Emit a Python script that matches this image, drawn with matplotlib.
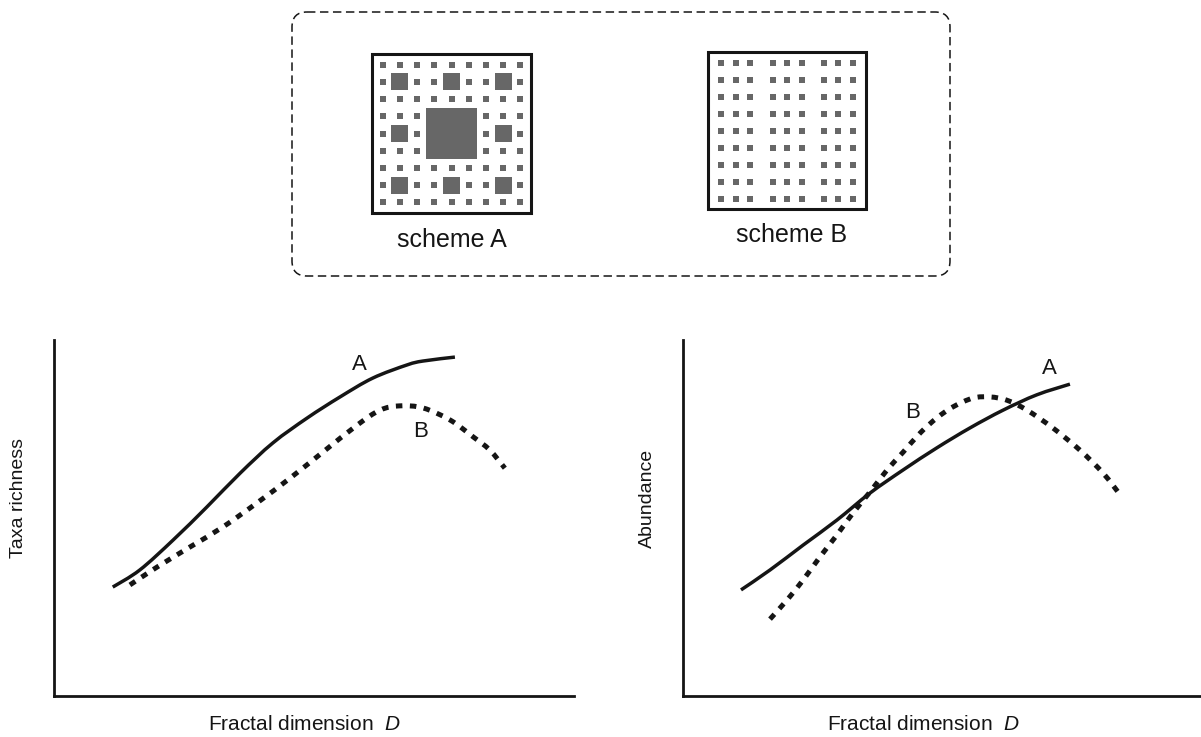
import numpy as np
import matplotlib
matplotlib.use("Agg")
import matplotlib.pyplot as plt
from matplotlib.patches import Rectangle, FancyBboxPatch, PathPatch
from matplotlib.path import Path

plt.rcParams['font.family'] = ['Liberation Sans', 'DejaVu Sans']
plt.rcParams['mathtext.fontset'] = 'custom'
plt.rcParams['mathtext.it'] = 'Liberation Sans:italic'
plt.rcParams['mathtext.rm'] = 'Liberation Sans'

INK = '#151515'
GREY = '#676767'

# relative curves, x = fractal dimension (0..1), y = response (0..1)
rich_a_x = [0.113, 0.165, 0.229, 0.294, 0.358, 0.421, 0.487, 0.550, 0.613, 0.679, 0.710, 0.771]
rich_a_y = [0.306, 0.354, 0.438, 0.531, 0.626, 0.711, 0.781, 0.840, 0.893, 0.930, 0.941, 0.952]
rich_b_x = [0.146, 0.198, 0.262, 0.325, 0.390, 0.454, 0.517, 0.583, 0.627, 0.665, 0.710, 0.762,
            0.806, 0.838, 0.867]
rich_b_y = [0.312, 0.362, 0.419, 0.475, 0.542, 0.612, 0.685, 0.761, 0.803, 0.815, 0.809, 0.775,
            0.728, 0.691, 0.640]

abund_a_x = [0.112, 0.168, 0.232, 0.297, 0.361, 0.425, 0.490, 0.554, 0.618, 0.683, 0.747]
abund_a_y = [0.298, 0.354, 0.424, 0.494, 0.570, 0.635, 0.697, 0.753, 0.803, 0.846, 0.876]
abund_b_x = [0.168, 0.201, 0.232, 0.264, 0.297, 0.328, 0.361, 0.394, 0.425, 0.458, 0.490, 0.521,
             0.560, 0.593, 0.625, 0.664, 0.714, 0.766, 0.811, 0.844]
abund_b_y = [0.216, 0.270, 0.326, 0.390, 0.452, 0.514, 0.573, 0.635, 0.685, 0.739, 0.781, 0.812,
             0.837, 0.840, 0.831, 0.803, 0.753, 0.691, 0.626, 0.565]

panels = [
    dict(ylabel='Taxa richness', a=(rich_a_x, rich_a_y), b=(rich_b_x, rich_b_y),
         a_lab=(0.588, 0.930), b_lab=(0.704, 0.742), xlab_x=0.481),
    dict(ylabel='Abundance', a=(abund_a_x, abund_a_y), b=(abund_b_x, abund_b_y),
         a_lab=(0.708, 0.921), b_lab=(0.444, 0.795), xlab_x=0.465),
]
scheme_names = ['scheme A', 'scheme B']

W, H = 1201, 737
fig = plt.figure(figsize=(W / 100, H / 100), dpi=100)


def smooth_path(xs, ys):
    # bezier path through the points (catmull-rom handles)
    p = np.column_stack([xs, ys])
    ext = np.vstack([p[0], p, p[-1]])
    verts = [p[0]]
    codes = [Path.MOVETO]
    for i in range(len(p) - 1):
        c1 = ext[i + 1] + (ext[i + 2] - ext[i]) / 6
        c2 = ext[i + 2] - (ext[i + 3] - ext[i + 1]) / 6
        verts += [c1, c2, p[i + 1]]
        codes += [Path.CURVE4] * 3
    return Path(verts, codes)


# --- top sketch: two patch layouts inside a dashed rounded frame (pixel coords)
sk = fig.add_axes([0, 0, 1, 1])
sk.set_xlim(0, W)
sk.set_ylim(H, 0)
sk.axis('off')

sk.add_patch(FancyBboxPatch((292, 12), 658, 264, boxstyle="round,pad=0,rounding_size=15",
                            fill=False, ec=INK, lw=1.1, ls=(0, (5.5, 3))))


def sq(cx, cy, s):
    sk.add_patch(Rectangle((cx - s / 2, cy - s / 2), s, s, fc=GREY, ec='none'))


# scheme A: three-level carpet of filled holes
x0, y0, side = 372, 54, 159
sk.add_patch(Rectangle((x0, y0), side, side, fill=False, ec=INK, lw=2.2, zorder=3))
cell = (side - 4) / 9
gx, gy = x0 + 2, y0 + 2
for i in range(9):
    for j in range(9):
        cx, cy = gx + (i + 0.5) * cell, gy + (j + 0.5) * cell
        if i // 3 == 1 and j // 3 == 1:
            continue
        if i % 3 == 1 and j % 3 == 1:
            sq(cx, cy, cell)
        else:
            sq(cx, cy, 6)
sq(gx + 4.5 * cell, gy + 4.5 * cell, 3 * cell)
sk.text(x0 + side / 2, 240, scheme_names[0], ha='center', va='center', fontsize=18, color=INK)

# scheme B: evenly spread small squares in three column groups
x0, y0, side = 708, 52, 158
sk.add_patch(Rectangle((x0, y0), side, side - 1, fill=False, ec=INK, lw=2.2, zorder=3))
cell = (side - 4) / 9
gx, gy = x0 + 2, y0 + 2
for g in range(3):
    gc = gx + (3 * g + 1.5) * cell
    for k in (-1, 0, 1):
        for j in range(9):
            sq(gc + k * 14.5, gy + (j + 0.5) * cell, 6)
sk.text(x0 + side / 2 + 5, 235, scheme_names[1], ha='center', va='center', fontsize=18, color=INK)

# --- bottom panels
rects = [[54 / W, 41 / H, 520 / W, 356 / H], [683 / W, 41 / H, 518 / W, 356 / H]]
for r, p in zip(rects, panels):
    ax = fig.add_axes(r)
    ax.set_xlim(0, 1)
    ax.set_ylim(0, 1)
    ax.patch.set_alpha(0)
    for s in ('top', 'right'):
        ax.spines[s].set_visible(False)
    for s in ('left', 'bottom'):
        ax.spines[s].set_linewidth(2.0)
        ax.spines[s].set_color(INK)
    ax.set_xticks([])
    ax.set_yticks([])

    ax.add_patch(PathPatch(smooth_path(*p['a']), fill=False, ec=INK, lw=2.5,
                           joinstyle='round', capstyle='butt'))
    ax.add_patch(PathPatch(smooth_path(*p['b']), fill=False, ec=INK, lw=3.6,
                           ls=(0, (1.3, 1.5)), capstyle='butt'))
    ax.text(*p['a_lab'], 'A', ha='center', va='center', fontsize=16, color=INK)
    ax.text(*p['b_lab'], 'B', ha='center', va='center', fontsize=16, color=INK)

    ax.set_xlabel(r'Fractal dimension  $\it{D}$', fontsize=15, color=INK, va='center')
    ax.xaxis.set_label_coords(p['xlab_x'], -0.081)
    ax.set_ylabel(p['ylabel'], fontsize=14, color=INK, va='center')
    ax.yaxis.set_label_coords(-0.069, 0.555)

fig.savefig('out.png', dpi=100)
